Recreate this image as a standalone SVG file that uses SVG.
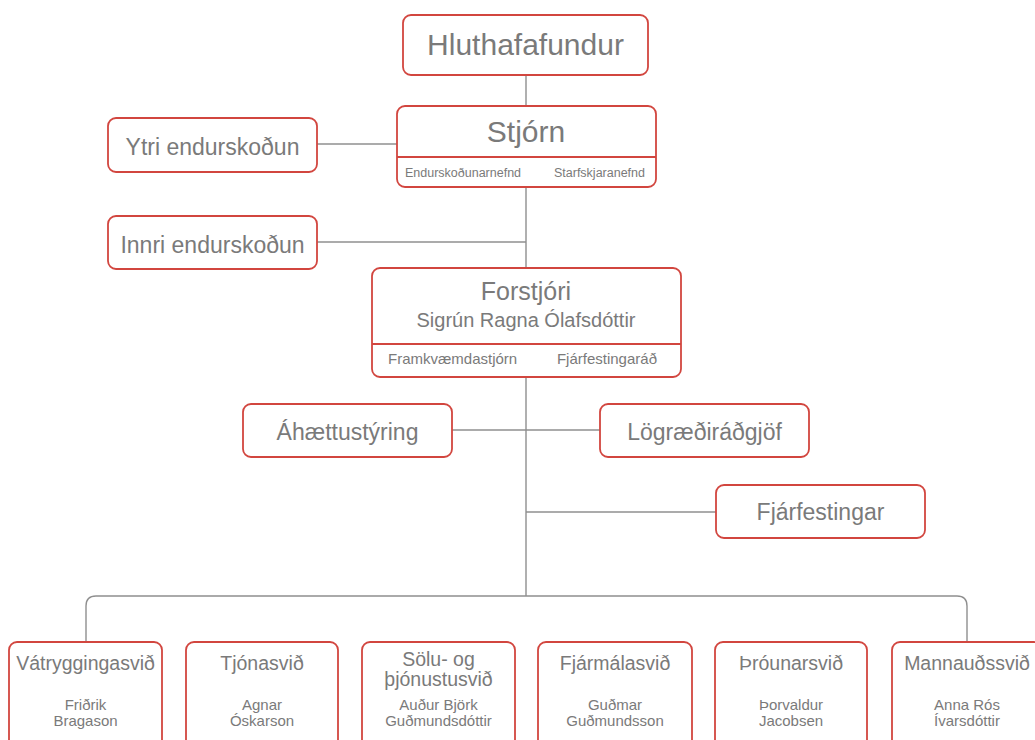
<svg xmlns="http://www.w3.org/2000/svg" width="1035" height="740" viewBox="0 0 1035 740">
<style>
.box{fill:#fff;stroke:#d2463f;stroke-width:1.8}
.div{stroke:#d2463f;stroke-width:1.8}
.con{fill:none;stroke:#8f8f8f;stroke-width:1.4}
text{font-family:"Liberation Sans",Arial,sans-serif;fill:#7a7a7a;text-anchor:middle}
.t30{font-size:30px}
.t23{font-size:23px}
.t25{font-size:25px}
.t20{font-size:20px}
.t15{font-size:15px}
.t12{font-size:12.5px}
.b19{font-size:19.5px}
.n15{font-size:15px}
</style>
<rect width="1035" height="740" fill="#fff"/>
<g id="connectors">
<line class="con" x1="526" y1="75" x2="526" y2="106"/>
<line class="con" x1="526" y1="187" x2="526" y2="268"/>
<line class="con" x1="526" y1="377" x2="526" y2="596"/>
<line class="con" x1="317" y1="144" x2="397" y2="144"/>
<line class="con" x1="317" y1="242" x2="526" y2="242"/>
<line class="con" x1="452" y1="430" x2="600" y2="430"/>
<line class="con" x1="526" y1="512" x2="716" y2="512"/>
<path class="con" d="M86,642 V606 Q86,596 96,596 H957 Q967,596 967,606 V642"/>
</g>
<g id="hluthafafundur">
<rect class="box" x="403" y="15" width="245" height="60" rx="8"/>
<text class="t30" x="525.5" y="55">Hluthafafundur</text>
</g>
<g id="stjorn">
<rect class="box" x="397" y="106" width="259" height="81" rx="8"/>
<line class="div" x1="397" y1="157" x2="656" y2="157"/>
<text class="t30" x="526" y="142">Stjórn</text>
<text class="t12" x="405" y="177" style="text-anchor:start">Endurskoðunarnefnd</text>
<text class="t12" x="645" y="177" style="text-anchor:end">Starfskjaranefnd</text>
</g>
<g id="ytri">
<rect class="box" x="108" y="118" width="209" height="54" rx="8"/>
<text class="t23" x="212.5" y="155">Ytri endurskoðun</text>
</g>
<g id="innri">
<rect class="box" x="108" y="216" width="209" height="53" rx="8"/>
<text class="t23" x="212.5" y="253">Innri endurskoðun</text>
</g>
<g id="forstjori">
<rect class="box" x="372" y="268" width="309" height="109" rx="8"/>
<line class="div" x1="372" y1="344" x2="681" y2="344"/>
<text class="t25" x="526" y="300">Forstjóri</text>
<text class="t20" x="526" y="327">Sigrún Ragna Ólafsdóttir</text>
<text class="t15" x="388" y="364" style="text-anchor:start">Framkvæmdastjórn</text>
<text class="t15" x="657" y="364" style="text-anchor:end">Fjárfestingaráð</text>
</g>
<g id="ahaettustyring">
<rect class="box" x="243" y="404" width="209" height="53" rx="8"/>
<text class="t23" x="347.5" y="440">Áhættustýring</text>
</g>
<g id="lograediradgjof">
<rect class="box" x="600" y="404" width="209" height="53" rx="8"/>
<text class="t23" x="704.5" y="440">Lögræðiráðgjöf</text>
</g>
<g id="fjarfestingar">
<rect class="box" x="716" y="485" width="209" height="53" rx="8"/>
<text class="t23" x="820.5" y="520">Fjárfestingar</text>
</g>
<g id="vatryggingasvid">
<rect class="box" x="9" y="642" width="153" height="130" rx="8"/>
<text class="b19" x="85.5" y="670">Vátryggingasvið</text>
<text class="n15" x="85.5" y="710">Friðrik</text>
<text class="n15" x="85.5" y="726">Bragason</text>
</g>
<g id="tjonasvid">
<rect class="box" x="186" y="642" width="152" height="130" rx="8"/>
<text class="b19" x="262" y="670">Tjónasvið</text>
<text class="n15" x="262" y="710">Agnar</text>
<text class="n15" x="262" y="726">Óskarson</text>
</g>
<g id="solusvid">
<rect class="box" x="362" y="642" width="153" height="130" rx="8"/>
<text class="b19" x="438.5" y="666">Sölu- og</text>
<text class="b19" x="438.5" y="686">þjónustusvið</text>
<text class="n15" x="438.5" y="710">Auður Björk</text>
<text class="n15" x="438.5" y="726">Guðmundsdóttir</text>
</g>
<g id="fjarmalasvid">
<rect class="box" x="538" y="642" width="154" height="130" rx="8"/>
<text class="b19" x="615" y="670">Fjármálasvið</text>
<text class="n15" x="615" y="710">Guðmar</text>
<text class="n15" x="615" y="726">Guðmundsson</text>
</g>
<g id="throunarsvid">
<rect class="box" x="715" y="642" width="152" height="130" rx="8"/>
<text class="b19" x="791" y="670">Þróunarsvið</text>
<text class="n15" x="791" y="710">Þorvaldur</text>
<text class="n15" x="791" y="726">Jacobsen</text>
</g>
<g id="mannaudssvid">
<rect class="box" x="892" y="642" width="150" height="130" rx="8"/>
<text class="b19" x="967" y="670">Mannauðssvið</text>
<text class="n15" x="967" y="710">Anna Rós</text>
<text class="n15" x="967" y="726">Ívarsdóttir</text>
</g>
</svg>
